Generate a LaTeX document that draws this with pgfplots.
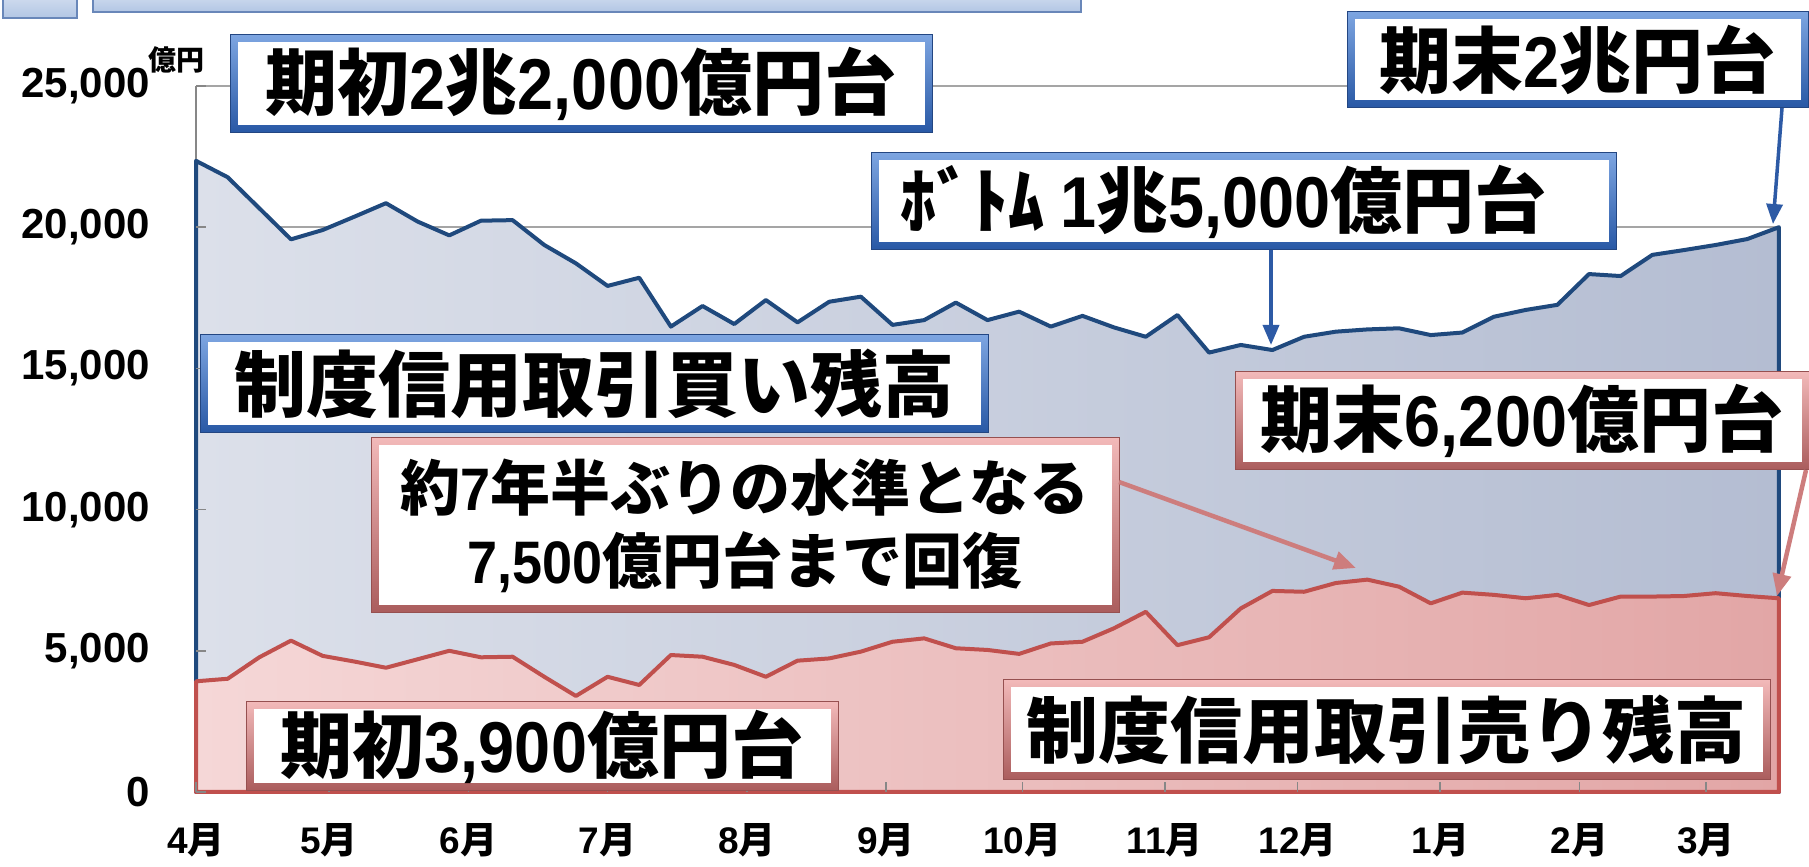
\documentclass[border=0pt]{standalone}
\usepackage{fontspec}
\setmainfont{Noto Sans CJK JP}
\newfontfamily\dg{Liberation Sans}[FakeStretch=0.9]
\newfontfamily\dgt{Liberation Sans}
\usepackage{pgfplots}
\usepackage{pgfplotstable}
\pgfplotsset{compat=1.18}
\usetikzlibrary{arrows.meta}

\definecolor{blueline}{RGB}{31,73,125}
\definecolor{bfillL}{RGB}{220,224,234}
\definecolor{bfillR}{RGB}{180,189,210}
\definecolor{redline}{RGB}{192,80,77}
\definecolor{rfillL}{RGB}{245,215,215}
\definecolor{rfillR}{RGB}{226,166,166}
\definecolor{gridgray}{RGB}{165,165,165}
\definecolor{axgray}{RGB}{135,135,135}
\definecolor{bframeT}{RGB}{125,165,225}
\definecolor{bframeB}{RGB}{40,88,165}
\definecolor{bdark}{RGB}{35,70,130}
\definecolor{rframeT}{RGB}{242,185,185}
\definecolor{rframeB}{RGB}{170,92,92}
\definecolor{rdark}{RGB}{150,80,80}
\definecolor{barrow}{RGB}{45,90,165}
\definecolor{rarrow}{RGB}{205,125,125}
\definecolor{ttlT}{RGB}{228,235,246}
\definecolor{ttlB}{RGB}{178,198,228}
\definecolor{ttlD}{RGB}{105,135,185}

\pgfplotstableread{
i buy sell
0 22350 3920
1 21770 4010
2 20670 4770
3 19570 5360
4 19900 4820
5 20370 4620
6 20850 4400
7 20200 4700
8 19710 5000
9 20230 4770
10 20250 4790
11 19370 4080
12 18720 3400
13 17920 4080
14 18210 3790
15 16480 4850
16 17210 4790
17 16570 4500
18 17420 4080
19 16630 4650
20 17360 4730
21 17540 4970
22 16540 5320
23 16710 5440
24 17330 5090
25 16710 5030
26 17010 4890
27 16480 5260
28 16860 5320
29 16450 5800
30 16120 6380
31 16890 5200
32 15560 5480
33 15830 6500
34 15650 7120
35 16120 7090
36 16300 7400
37 16380 7520
38 16420 7270
39 16180 6680
40 16270 7060
41 16830 6980
42 17070 6860
43 17250 6980
44 18340 6620
45 18270 6920
46 19020 6920
47 19190 6940
48 19370 7040
49 19580 6940
50 20000 6860
}\data

% #1 top colour, #2 bottom colour, #3 outline, #4 cx, #5 cy, #6 W, #7 H, #8 text node options, #9 text
\newcommand\abox[9]{%
  \node[top color=#1, bottom color=#2, draw=#3, line width=1pt, inner sep=0pt,
        minimum width=#6pt, minimum height=#7pt] at (#4,#5) {};
  \node[fill=white, inner sep=0pt, minimum width={#6pt-15pt}, minimum height={#7pt-15pt}] at (#4,#5) {};
  \node[inner sep=0pt, align=center, font=\bfseries\fontsize{72}{72}\selectfont, #8] at (#4,#5) {#9};
}

\begin{document}
\begin{tikzpicture}[x=1pt,y=1pt]
\path[use as bounding box] (0,0) rectangle (1809,867);

% title bars at the top (cut off)
\draw[draw=ttlD, line width=2pt, top color=ttlT, bottom color=ttlB] (3,849) rectangle (77,885);
\draw[draw=ttlD, line width=2pt, top color=ttlT, bottom color=ttlB] (93,855) rectangle (1081,885);

\begin{axis}[
  at={(196pt,75pt)}, anchor=south west,
  scale only axis, width=1583pt, height=706pt,
  xmin=0, xmax=50, ymin=0, ymax=25000,
  axis lines*=left,
  axis line style={draw=axgray, line width=1.5pt},
  xtick=\empty, ytick={5000,10000,15000,20000,25000}, yticklabels={},
  scaled y ticks=false,
  major tick length=0pt,
  ymajorgrids, major grid style={draw=gridgray, line width=1.5pt},
  clip=false,
]
\addplot[draw=blueline, line width=4pt, line join=round, left color=bfillL, right color=bfillR]
  table[x=i, y=buy] {\data} \closedcycle;
\addplot[draw=redline, line width=4pt, line join=round, left color=rfillL, right color=rfillR]
  table[x=i, y=sell] {\data} \closedcycle;
\end{axis}

\begin{axis}[
  at={(196pt,75pt)}, anchor=south west,
  scale only axis, width=1583pt, height=706pt,
  xmin=0, xmax=50, ymin=0, ymax=25000,
  axis lines*=left,
  axis line style={draw=none},
  scaled y ticks=false, scaled x ticks=false,
  tick align=inside,
  major tick length=10pt,
  tick style={draw=axgray, line width=1.5pt},
  xtick={0,4.2,8.6,13,17.4,21.8,26.1,30.6,34.8,39.3,43.7,47.7},
  xticklabels={{\dgt 4}月,{\dgt 5}月,{\dgt 6}月,{\dgt 7}月,{\dgt 8}月,{\dgt 9}月,{\dgt 10}月,{\dgt 11}月,{\dgt 12}月,{\dgt 1}月,{\dgt 2}月,{\dgt 3}月},
  ytick={0,5000,10000,15000,20000,25000},
  yticklabels={0,{5,000},{10,000},{15,000},{20,000},{25,000}},
  yticklabel style={font=\dgt\bfseries\fontsize{42}{42}\selectfont, inner sep=0pt, anchor=east, xshift=-46pt},
  xticklabel style={font=\bfseries\fontsize{37}{37}\selectfont, inner sep=0pt, anchor=center, yshift=-48pt},
  clip=false,
]
\addplot[draw=none] coordinates {(0,0)};
\end{axis}

\node[inner sep=0pt, font=\bfseries\fontsize{28}{28}\selectfont] at (176,807) {億円};

% annotation boxes
\abox{bframeT}{bframeB}{bdark}{581}{783}{702}{98}{}{期初{\dg 2}兆{\dg 2,000}億円台}
\abox{bframeT}{bframeB}{bdark}{1577.5}{807}{461}{96}{}{期末{\dg 2}兆円台}
\abox{bframeT}{bframeB}{bdark}{1243.5}{665.5}{745}{97}{xshift=-20pt}{ﾎﾞﾄﾑ {\dg 1}兆{\dg 5,000}億円台}
\abox{bframeT}{bframeB}{bdark}{594}{483}{788}{98}{}{制度信用取引買い残高}
\abox{rframeT}{rframeB}{rdark}{745}{341.5}{748}{175}{font=\bfseries\fontsize{60}{73}\selectfont}{約{\dg 7}年半ぶりの水準となる\\{\dg 7,500}億円台まで回復}
\abox{rframeT}{rframeB}{rdark}{1522}{446}{574}{98}{}{期末{\dg 6,200}億円台}
\abox{rframeT}{rframeB}{rdark}{542}{120.5}{592}{89}{}{期初{\dg 3,900}億円台}
\abox{rframeT}{rframeB}{rdark}{1386.5}{137}{767}{100}{}{制度信用取引売り残高}

% arrows
\draw[barrow, line width=3.5pt, -{Triangle[length=20pt,width=16pt]}] (1271,617) -- (1271,522);
\draw[barrow, line width=3.5pt, -{Triangle[length=20pt,width=16pt]}] (1782,759) -- (1773,643);
\draw[rarrow, line width=4.5pt, -{Triangle[length=22pt,width=18pt]}] (1119,385) -- (1356,299);
\draw[rarrow, line width=4.5pt, -{Triangle[length=22pt,width=18pt]}] (1806,397) -- (1777,271);
\end{tikzpicture}
\end{document}
